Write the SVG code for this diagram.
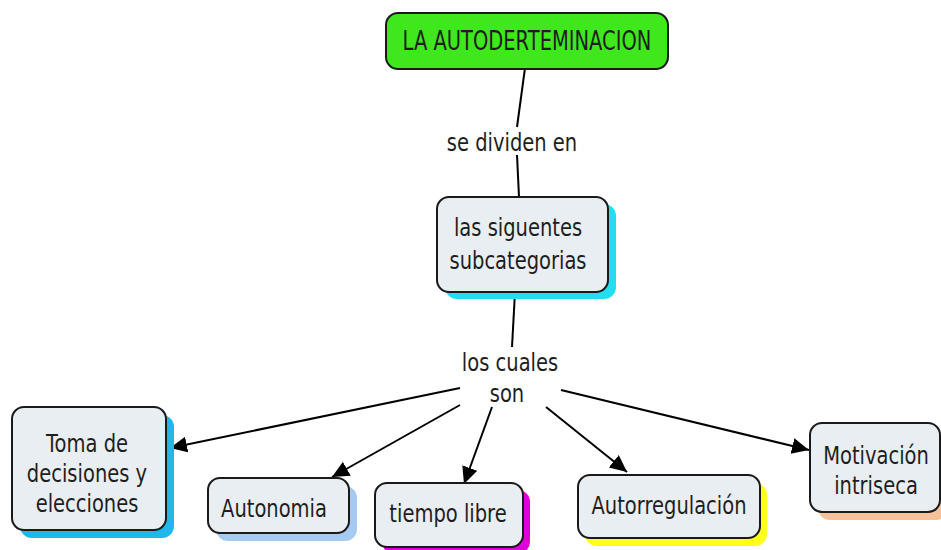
<svg xmlns="http://www.w3.org/2000/svg" width="941" height="550" viewBox="0 0 941 550">
<style>
.box{fill:#e9eef2;stroke:#1a1a1a;stroke-width:2}
.t{font-family:"DejaVu Sans","Verdana",sans-serif;font-size:19.5px;fill:#1e1e1e;text-anchor:middle}
.ln{stroke:#000;stroke-width:2;fill:none}
.ar{stroke:#000;stroke-width:2;fill:none;marker-end:url(#ah)}
</style>
<defs>
<marker id="ah" markerUnits="userSpaceOnUse" markerWidth="18" markerHeight="18" refX="17" refY="8" orient="auto">
<path d="M0,0 L17,8 L0,16 z" fill="#000"/>
</marker>
</defs>
<rect width="941" height="550" fill="#fff"/>
<g id="connectors">
<line class="ln" x1="525" y1="68" x2="517" y2="127"/>
<line class="ln" x1="517" y1="155" x2="519" y2="197"/>
<line class="ln" x1="515" y1="292" x2="512" y2="347"/>
<line class="ar" x1="460" y1="388" x2="170" y2="448"/>
<line class="ar" x1="460" y1="405" x2="332" y2="477"/>
<line class="ar" x1="492" y1="407" x2="464" y2="484"/>
<line class="ar" x1="546" y1="407" x2="627" y2="472"/>
<line class="ar" x1="561" y1="390" x2="809" y2="450"/>
</g>
<g id="n_top">
<rect x="386" y="13" width="282" height="56" rx="12" fill="#3ee81c" stroke="#1a1a1a" stroke-width="2"/>
<text class="t" transform="translate(527,50) scale(1,1.35)" font-size="20">LA AUTODERTEMINACION</text>
</g>
<g id="l_divide">
<text class="t" transform="translate(512,151) scale(1,1.3)">se dividen en</text>
</g>
<g id="n_sub">
<rect x="445" y="204" width="171" height="95" rx="12" fill="#22def0"/>
<rect class="box" x="437" y="197" width="171" height="95" rx="12"/>
<text class="t" transform="translate(518,236) scale(1,1.3)">las siguentes</text>
<text class="t" transform="translate(518,269) scale(1,1.3)">subcategorias</text>
</g>
<g id="l_cuales">
<text class="t" transform="translate(510,371) scale(1,1.3)">los cuales</text>
<text class="t" transform="translate(507,402) scale(1,1.3)">son</text>
</g>
<g id="n_toma">
<rect x="20" y="415" width="154" height="123" rx="12" fill="#1eb8ec"/>
<rect class="box" x="12" y="407" width="154" height="123" rx="12"/>
<text class="t" transform="translate(87,452) scale(1,1.3)">Toma de</text>
<text class="t" transform="translate(87,482) scale(1,1.3)">decisiones y</text>
<text class="t" transform="translate(87,512) scale(1,1.3)">elecciones</text>
</g>
<g id="n_autonomia">
<rect x="216" y="486" width="141" height="55" rx="12" fill="#a6cbf2"/>
<rect class="box" x="208" y="478" width="141" height="55" rx="12"/>
<text class="t" transform="translate(274,517) scale(1,1.3)">Autonomia</text>
</g>
<g id="n_tiempo">
<rect x="382" y="490" width="148" height="64" rx="12" fill="#e000d8"/>
<rect class="box" x="375" y="483" width="148" height="64" rx="12"/>
<text class="t" transform="translate(448,522) scale(1,1.3)">tiempo libre</text>
</g>
<g id="n_autorreg">
<rect x="585" y="483" width="182" height="63" rx="12" fill="#ffff1a"/>
<rect class="box" x="578" y="475" width="182" height="63" rx="12"/>
<text class="t" transform="translate(669,514) scale(1,1.3)">Autorregulación</text>
</g>
<g id="n_motiv">
<rect x="818" y="431" width="130" height="89" rx="12" fill="#f7c29a"/>
<rect class="box" x="810" y="423" width="130" height="89" rx="12"/>
<text class="t" transform="translate(876,464) scale(1,1.3)">Motivación</text>
<text class="t" transform="translate(876,494) scale(1,1.3)">intriseca</text>
</g>
</svg>
